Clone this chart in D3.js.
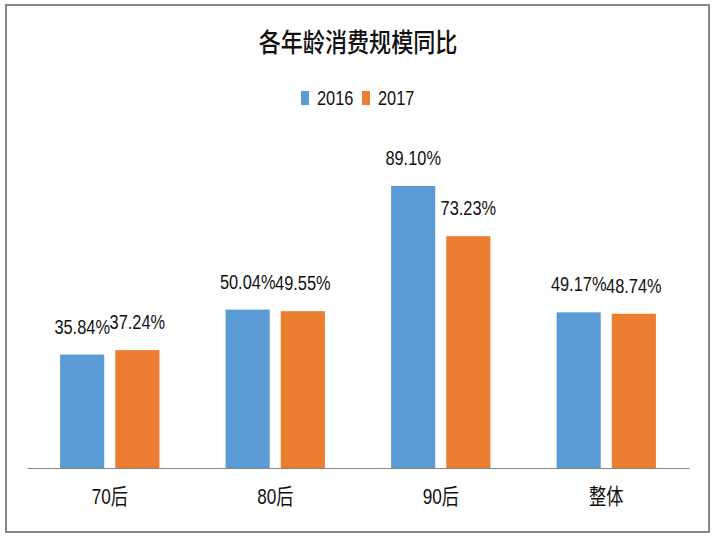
<!DOCTYPE html>
<html>
<head>
<meta charset="utf-8">
<script src="https://cdn.jsdelivr.net/npm/d3@7"></script>
<style>
  body { margin: 0; background: #fff; }
  text { font-family: "Liberation Sans", "Noto Sans CJK SC", sans-serif; fill: #111; }
</style>
</head>
<body>
<svg id="chart"></svg>
<script>
const categories = ["70后", "80后", "90后", "整体"];
const seriesNames = ["2016", "2017"];
const values2016 = [35.84, 50.04, 89.10, 49.17];
const values2017 = [37.24, 49.55, 73.23, 48.74];
const colors = ["#5b9bd5", "#ed7d31"];

const width = 718;
const height = 536;
const sx = 0.78; // horizontally squeezed text, like the original

const svg = d3.select("#chart").attr("width", width).attr("height", height);

// frame
svg.append("rect")
  .attr("x", 6).attr("y", 5)
  .attr("width", 703).attr("height", 527)
  .attr("fill", "none")
  .attr("stroke", "#888")
  .attr("stroke-width", 2);

const x0 = d3.scaleBand()
  .domain(categories)
  .range([27, 689])
  .paddingInner(0.4)
  .paddingOuter(0.2);

const x1 = d3.scaleBand()
  .domain(seriesNames)
  .range([0, x0.bandwidth()])
  .paddingInner(0.2);

const y = d3.scaleLinear().domain([0, 100]).range([468, 151.5]);

const rows = categories.map((c, i) => ({
  cat: c,
  vals: [
    { s: "2016", v: values2016[i] },
    { s: "2017", v: values2017[i] }
  ]
}));

// bars
const groups = svg.append("g")
  .selectAll("g")
  .data(rows)
  .join("g")
  .attr("transform", (d) => `translate(${x0(d.cat)},0)`);

groups.selectAll("rect")
  .data((d) => d.vals)
  .join("rect")
  .attr("x", (d) => x1(d.s))
  .attr("y", (d) => y(d.v))
  .attr("width", x1.bandwidth())
  .attr("height", (d) => y(0) - y(d.v))
  .attr("fill", (d, i) => colors[i]);

// value labels
groups.selectAll("text")
  .data((d) => d.vals)
  .join("text")
  .attr("transform", (d) => `translate(${x1(d.s) + x1.bandwidth() / 2},${y(d.v) - 21}) scale(${sx},1)`)
  .attr("text-anchor", "middle")
  .attr("font-size", 21)
  .text((d) => d.v.toFixed(2) + "%");

// x axis
const xAxis = svg.append("g")
  .attr("transform", `translate(0,${y(0)})`)
  .call(d3.axisBottom(x0).tickSize(0).tickPadding(0));
xAxis.select(".domain").attr("stroke", "#868686").attr("stroke-width", 1.2);
xAxis.selectAll(".tick text").remove();

svg.append("g")
  .selectAll("text")
  .data(categories)
  .join("text")
  .attr("transform", (d) => `translate(${x0(d) + x0.bandwidth() / 2},504) scale(${sx},1)`)
  .attr("text-anchor", "middle")
  .attr("font-size", 22)
  .text((d) => d);

// title
svg.append("text")
  .attr("transform", `translate(358,52) scale(0.85,1)`)
  .attr("text-anchor", "middle")
  .attr("font-family", "Noto Sans CJK SC")
  .attr("font-size", 26)
  .attr("font-weight", 500)
  .text("各年龄消费规模同比");

// legend
const legend = svg.append("g")
  .selectAll("g")
  .data(seriesNames)
  .join("g")
  .attr("transform", (d, i) => `translate(${301 + i * 61},0)`);

legend.append("rect")
  .attr("x", 0).attr("y", 91)
  .attr("width", 8).attr("height", 14)
  .attr("fill", (d, i) => colors[i]);

legend.append("text")
  .attr("transform", `translate(16,105) scale(${sx},1)`)
  .attr("font-size", 21)
  .text((d) => d);
</script>
</body>
</html>
